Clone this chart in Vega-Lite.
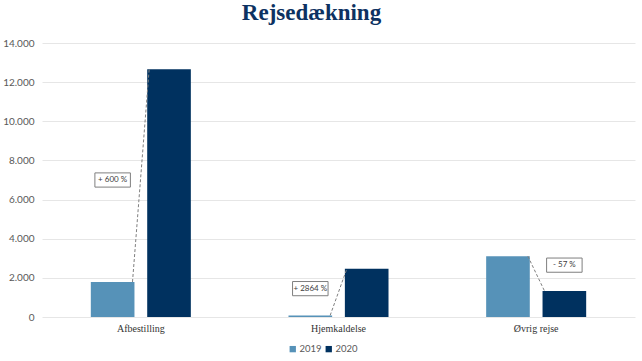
{
  "$schema": "https://vega.github.io/schema/vega-lite/v6.json",
  "width": 593,
  "height": 274,
  "autosize": "none",
  "padding": {"left": 42, "top": 43, "right": 7, "bottom": 44},
  "background": "white",
  "title": {
    "text": "Rejsedækning",
    "font": "Liberation Serif",
    "fontSize": 23,
    "fontWeight": "bold",
    "color": "#0D3262",
    "anchor": "middle",
    "dx": -27,
    "offset": 13
  },
  "datasets": {
    "bars": [
      {"cat": "Afbestilling", "year": "2019", "pos": "a", "value": 1790},
      {"cat": "Afbestilling", "year": "2020", "pos": "b", "value": 12660},
      {"cat": "Hjemkaldelse", "year": "2019", "pos": "a", "value": 83},
      {"cat": "Hjemkaldelse", "year": "2020", "pos": "b", "value": 2460},
      {"cat": "Øvrig rejse", "year": "2019", "pos": "a", "value": 3110},
      {"cat": "Øvrig rejse", "year": "2020", "pos": "b", "value": 1330}
    ],
    "notes": [
      {"cat": "Afbestilling", "year": "2019", "label": "+ 600 %", "at": 7000},
      {"cat": "Hjemkaldelse", "year": "2019", "label": "+ 2864 %", "at": 1450},
      {"cat": "Øvrig rejse", "year": "2020", "label": "- 57 %", "at": 2650}
    ]
  },
  "encoding": {
    "x": {
      "field": "cat",
      "type": "nominal",
      "sort": ["Afbestilling", "Hjemkaldelse", "Øvrig rejse"],
      "scale": {"type": "band", "paddingInner": 0.494, "paddingOuter": 0.247},
      "axis": {
        "title": null,
        "labelAngle": 0,
        "domain": false,
        "ticks": false,
        "labelPadding": 6,
        "labelFont": "Liberation Serif",
        "labelFontSize": 10,
        "labelColor": "#333333"
      }
    },
    "y": {
      "field": "value",
      "type": "quantitative",
      "scale": {"domain": [0, 14000]},
      "axis": {
        "title": null,
        "values": [0, 2000, 4000, 6000, 8000, 10000, 12000, 14000],
        "labelExpr": "replace(format(datum.value, ','), ',', '.')",
        "labelOverlap": false,
        "labelBound": false,
        "domain": false,
        "ticks": false,
        "labelPadding": 8,
        "labelFont": "Lato",
        "labelFontSize": 10,
        "labelColor": "#595959",
        "gridColor": "#E6E6E6",
        "gridWidth": 1
      }
    }
  },
  "layer": [
    {
      "data": {"name": "bars"},
      "mark": {"type": "bar"},
      "encoding": {
        "xOffset": {"field": "year", "type": "nominal", "scale": {"type": "band", "paddingInner": 0.226, "paddingOuter": 0}},
        "color": {
          "field": "year",
          "type": "nominal",
          "scale": {"domain": ["2019", "2020"], "range": ["#5692B8", "#00315F"]},
          "legend": {
            "title": null,
            "orient": "none",
            "direction": "horizontal",
            "legendX": 246,
            "legendY": 301,
            "symbolType": "square",
            "symbolSize": 40,
            "symbolStrokeWidth": 0,
            "labelFont": "Lato",
            "labelFontSize": 9.5,
            "labelColor": "#595959",
            "columnPadding": 2,
            "labelOffset": 2
          }
        }
      }
    },
    {
      "data": {"name": "bars"},
      "mark": {"type": "line", "color": "#7F7F7F", "strokeWidth": 1, "strokeDash": [3, 2]},
      "encoding": {
        "xOffset": {"field": "pos", "type": "nominal", "scale": {"type": "band", "domain": ["p0", "p1", "a", "b", "p4", "p5"], "paddingInner": 0, "paddingOuter": 0}},
        "detail": {"field": "cat"}
      }
    },
    {
      "data": {"name": "notes"},
      "mark": {
        "type": "point",
        "shape": "M-1,-0.4L1,-0.4L1,0.4L-1,0.4Z",
        "size": 1260,
        "filled": true,
        "fill": "white",
        "stroke": "#7F7F7F",
        "strokeWidth": 1,
        "opacity": 1
      },
      "encoding": {
        "xOffset": {"field": "year", "type": "nominal", "scale": {"type": "band", "domain": ["2019", "2020"], "paddingInner": 0.226, "paddingOuter": 0}},
        "y": {"field": "at", "type": "quantitative"}
      }
    },
    {
      "data": {"name": "notes"},
      "mark": {"type": "text", "font": "Lato", "fontSize": 8, "color": "#404040", "align": "center", "baseline": "middle"},
      "encoding": {
        "xOffset": {"field": "year", "type": "nominal", "scale": {"type": "band", "domain": ["2019", "2020"], "paddingInner": 0.226, "paddingOuter": 0}},
        "y": {"field": "at", "type": "quantitative"},
        "text": {"field": "label"}
      }
    }
  ],
  "resolve": {"scale": {"xOffset": "independent"}},
  "config": {"view": {"stroke": null}}
}
